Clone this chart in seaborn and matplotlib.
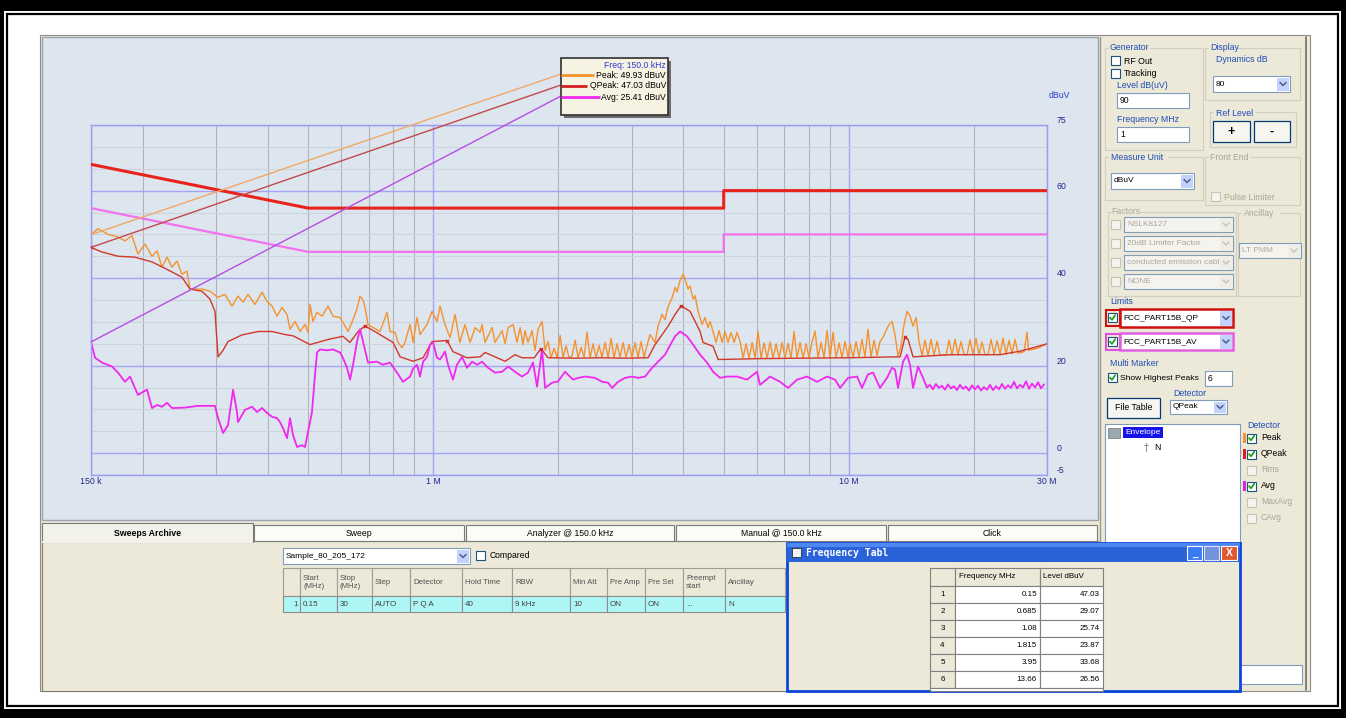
import numpy as np
import pandas as pd
import matplotlib
matplotlib.use("Agg")
import matplotlib.pyplot as plt
import seaborn as sns
from matplotlib.patches import Rectangle
from matplotlib.ticker import LogLocator, MultipleLocator, NullFormatter

# ================= data =================
# FCC Part 15B conducted limits (MHz, dBuV)
qp_lim_freq = [0.15, 0.5, 0.5, 5.0, 5.0, 30.0]
qp_lim_level = [66, 56, 56, 56, 60, 60]
av_lim_freq = [0.15, 0.5, 0.5, 5.0, 5.0, 30.0]
av_lim_level = [56, 46, 46, 46, 50, 50]

# Peak trace, hand read points
pk_freq = [
    0.150, 0.156, 0.1648, 0.1742, 0.1811, 0.1882, 0.1946, 0.2023, 0.2104, 0.2163,
    0.2223, 0.2286, 0.2350, 0.2416, 0.2484, 0.2553, 0.2596, 0.2775, 0.2901, 0.3033,
    0.3152, 0.3277, 0.3388, 0.3484, 0.3581, 0.3723, 0.3870, 0.3978, 0.4091, 0.4205,
    0.4324, 0.4445, 0.4520, 0.4647, 0.478, 0.4912, 0.4994, 0.5050, 0.5134, 0.5249,
    0.5397, 0.5580, 0.5737, 0.5963, 0.606, 0.6233, 0.6373, 0.6552, 0.6662, 0.6774,
    0.685, 0.6964, 0.7160, 0.7443, 0.7737, 0.7867, 0.8088, 0.8224, 0.8409, 0.8549,
    0.8790, 0.894, 0.9137, 0.9290, 0.9658, 0.993, 1.021, 1.038, 1.067, 1.097,
    1.128, 1.159, 1.192, 1.226, 1.261, 1.296, 1.310, 1.332, 1.385, 1.408,
    1.464, 1.489, 1.514, 1.556, 1.591, 1.618, 1.644, 1.662, 1.690, 1.729,
    1.758, 1.787, 1.827]
pk_level = [
    49.93, 51.3, 50.0, 49.4, 48.5, 49.7, 45.5, 47.8, 45.0, 46.2,
    42.5, 44.8, 42.5, 43.9, 40.9, 41.6, 37.5, 37.5, 37.0, 35.6,
    36.3, 33.6, 35.9, 34.5, 36.3, 34.0, 36.8, 34.7, 33.6, 31.3,
    33.3, 31.7, 28.3, 30.1, 27.8, 29.4, 27.6, 34.0, 30.1, 32.2,
    31.3, 33.6, 31.3, 31.0, 29.9, 27.8, 29.9, 33.0, 35.9, 35.0,
    33.3, 29.4, 28.7, 27.8, 32.2, 27.8, 27.6, 25.3, 24.1, 25.3,
    29.4, 25.3, 31.0, 27.1, 29.4, 32.4, 30.1, 33.6, 29.4, 26.4,
    31.7, 25.3, 29.4, 25.3, 28.7, 27.6, 29.4, 25.3, 28.7, 25.3,
    28.0, 25.0, 28.7, 29.4, 25.3, 28.7, 24.8, 28.0, 25.3, 28.0,
    23.5, 28.3, 30.1]
# dense spiky parts of the peak trace, read on the receiver sweep grid
pk_band1_range = (1.858, 3.270)
pk_band1 = [23.5, 25.5, 21.8, 24.0, 21.8, 26.9, 21.9, 24.5, 21.8, 22.2,
            25.8, 21.8, 24.2, 22.0, 27.6, 21.8, 25.0, 21.8, 24.6, 21.9,
            25.3, 21.8, 26.2, 21.8, 25.0, 21.9, 25.3, 21.8, 24.8, 21.8,
            25.3, 21.8, 25.5, 21.9, 24.7]
pk_freq_b = [3.325, 3.418, 3.475, 3.553, 3.612, 3.673, 3.756, 3.819, 3.861, 3.926,
             3.992, 4.036, 4.104, 4.150, 4.220, 4.266, 4.338, 4.435, 4.509, 4.585,
             4.636, 4.714, 4.793, 4.874, 4.955, 5.037, 5.122, 5.208, 5.296, 5.384,
             5.475]
pk_level_b = [27.1, 25.3, 29.0, 31.7, 30.5, 33.5, 35.5, 37.9, 36.8, 39.5,
              40.9, 39.8, 37.5, 38.2, 35.2, 36.0, 32.4, 29.4, 31.0, 28.7,
              30.1, 27.8, 25.3, 28.0, 25.3, 27.8, 25.3, 27.6, 25.3, 27.6,
              25.5]
pk_band2_range = (5.567, 9.960)
pk_band2 = [21.8, 25.0, 21.7, 25.3, 21.7, 27.8, 21.7, 25.2, 21.7, 25.4,
            21.7, 25.0, 21.7, 25.3, 21.7, 25.1, 21.7, 27.8, 21.7, 25.3,
            21.7, 25.0, 21.8, 25.4, 27.9, 21.8, 25.3, 21.8, 28.0, 21.8,
            27.6, 21.8, 25.2, 21.8, 25.5, 21.8]
pk_band3_range = (10.07, 26.86)
pk_band3 = [25.0, 21.9, 25.5, 22.0, 26.0, 22.0, 28.3, 22.0, 25.8, 22.3,
            25.5, 26.5, 28.0, 29.4, 30.1, 27.0, 22.2, 24.5, 29.4, 32.4,
            31.3, 29.0, 31.0, 25.5, 22.3, 25.8, 22.3, 26.0, 22.3, 25.6,
            22.4, 22.4, 22.4, 25.8, 22.4, 26.0, 22.5, 25.5, 22.5, 22.5,
            25.9, 22.5, 26.2, 22.5, 25.4, 22.5, 22.5, 26.0, 22.6, 25.7,
            22.6, 26.3, 22.6, 25.8, 22.7, 26.0, 22.8, 23.0, 23.2, 27.6]
pk_freq_tail = [27.1, 28.5, 30.0]
pk_level_tail = [23.5, 24.0, 25.0]

# Quasi-peak trace
qp_freq = [0.150, 0.159, 0.1742, 0.191, 0.2104, 0.2286, 0.2484, 0.2596, 0.2775, 0.2901,
           0.2982, 0.3033, 0.3118, 0.3205, 0.346, 0.379, 0.4091, 0.440, 0.460, 0.505,
           0.559, 0.606, 0.630, 0.659, 0.685, 0.732, 0.800, 0.832, 0.894, 0.945,
           0.993, 1.079, 1.115, 1.205, 1.296, 1.332, 1.408, 1.489, 1.573, 1.635,
           1.75, 1.815, 1.889, 2.2, 2.52, 2.9, 3.288, 3.418, 3.673, 3.819,
           3.948, 4.150, 4.387, 4.459, 4.714, 4.847, 6.116, 7.634, 10.07, 12.92,
           13.29, 13.66, 13.89, 14.28, 17.52, 23.13, 25.84, 28.07, 30.0]
qp_level = [47.03, 46.0, 45.0, 44.8, 43.7, 42.0, 40.2, 37.5, 37.0, 35.2,
            32.4, 22.0, 23.5, 25.5, 27.0, 27.8, 27.8, 27.1, 26.8, 24.8,
            26.0, 26.7, 25.3, 27.8, 29.07, 27.5, 25.3, 22.0, 21.0, 21.8,
            25.5, 25.74, 23.2, 21.8, 22.0, 23.0, 22.0, 21.0, 22.5, 21.8,
            21.8, 23.87, 21.8, 21.7, 21.8, 21.7, 21.8, 24.8, 29.0, 31.7,
            33.68, 32.4, 27.8, 25.3, 24.4, 21.4, 21.6, 21.7, 21.8, 22.0,
            22.0, 26.56, 26.0, 22.0, 22.5, 22.5, 23.3, 24.2, 25.0]

# Average trace
avg_freq = [0.150, 0.1534, 0.1594, 0.1685, 0.1742, 0.1811, 0.1862, 0.1946, 0.2001, 0.2046,
            0.2104, 0.2163, 0.2223, 0.2286, 0.2350, 0.2525, 0.2714, 0.2982, 0.3033, 0.3118,
            0.3205, 0.3296, 0.3369, 0.3388, 0.3522, 0.3661, 0.3764, 0.3870, 0.3978, 0.4091,
            0.4205, 0.4276, 0.4348, 0.4445, 0.4520, 0.4596, 0.4699, 0.4831, 0.4912, 0.4994,
            0.5105, 0.5191, 0.5249, 0.5337, 0.5548, 0.5737, 0.5963, 0.606, 0.6199, 0.6303,
            0.6409, 0.6552, 0.6662, 0.6774, 0.6964, 0.7320, 0.7568, 0.7867, 0.8178, 0.8456,
            0.8790, 0.894, 0.9137, 0.9290, 0.945, 0.9658, 0.9820, 0.9985, 1.021, 1.038,
            1.067, 1.085, 1.115, 1.140, 1.173, 1.205, 1.240, 1.275, 1.310, 1.355,
            1.408, 1.464, 1.514, 1.573, 1.635, 1.690, 1.738, 1.777, 1.827, 1.858,
            1.932, 1.997, 2.075, 2.170, 2.231, 2.319, 2.451, 2.548, 2.634, 2.693,
            2.784, 2.894, 3.009, 3.111, 3.234, 3.362, 3.475, 3.612, 3.756, 3.819,
            3.926, 4.081, 4.220, 4.387, 4.559, 4.714, 4.901, 5.094, 5.384, 5.691,
            6.015, 6.116, 6.465, 6.833, 7.143, 7.507, 7.935, 8.388, 8.866, 9.268,
            9.529, 9.960, 10.47, 10.76, 11.12, 11.44, 11.89, 12.36, 12.71, 12.92,
            13.14, 13.51, 13.81, 14.04, 14.28, 14.68, 15.09, 15.42]
avg_level = [25.41, 21.8, 20.7, 19.8, 18.4, 16.3, 17.5, 13.3, 14.0, 14.5,
             10.3, 11.0, 10.6, 11.5, 10.3, 10.4, 10.8, 10.8, 8.0, 4.6,
             6.4, 14.5, 9.4, 7.1, 9.9, 10.6, 9.4, 10.3, 9.2, 8.3,
             8.0, 7.1, 5.7, 3.4, 8.0, 4.1, 1.4, 1.8, 1.4, 4.8,
             9.4, 17.9, 23.0, 23.7, 23.5, 23.7, 23.0, 21.8, 19.5, 16.8,
             20.2, 25.5, 28.3, 25.5, 20.7, 20.9, 20.2, 20.7, 18.4, 16.3,
             17.5, 19.3, 20.2, 17.5, 20.9, 22.0, 24.8, 25.3, 21.8, 21.4,
             23.2, 20.2, 16.8, 20.2, 22.0, 19.5, 20.9, 20.2, 20.9, 19.5,
             18.4, 18.6, 19.8, 18.6, 17.5, 18.4, 20.7, 15.2, 23.7, 14.9,
             16.1, 16.4, 18.6, 16.8, 17.2, 17.5, 17.2, 16.3, 16.1, 14.9,
             16.3, 17.2, 17.5, 17.2, 17.5, 19.5, 20.9, 22.5, 25.5, 26.7,
             27.8, 26.7, 24.8, 22.5, 20.7, 18.6, 17.2, 17.5, 17.5, 16.8,
             18.6, 15.6, 17.5, 16.3, 14.9, 16.8, 17.5, 16.3, 17.5, 16.8,
             14.9, 17.2, 17.5, 14.9, 18.0, 18.4, 14.9, 17.2, 19.5, 19.1,
             14.9, 20.9, 22.5, 20.2, 14.9, 19.8, 17.2, 15.0]
avg_band_range = (15.68, 29.51)
avg_band = [15.6, 14.6, 15.8, 14.9, 15.4, 14.5, 15.7, 14.8, 15.3, 14.4,
            15.6, 14.7, 15.2, 14.3, 15.5, 14.6, 15.4, 14.3, 15.1, 14.5,
            15.6, 14.4, 15.3, 14.6, 15.8, 14.7, 15.5, 14.9, 16.3, 14.8,
            15.6, 15.0, 16.4, 14.7, 15.9, 15.0, 16.2, 14.8, 15.7]

# highest peaks (frequency table)
mk_freq = [0.15, 0.685, 1.08, 1.815, 3.95, 13.66]
mk_level = [47.03, 29.07, 25.74, 23.87, 33.68, 26.56]

# ================= build frames =================
def sweep(rng, levels):
    return np.geomspace(rng[0], rng[1], len(levels))

peak_df = pd.DataFrame({
    'freq': np.concatenate([pk_freq, sweep(pk_band1_range, pk_band1), pk_freq_b,
                            sweep(pk_band2_range, pk_band2), sweep(pk_band3_range, pk_band3),
                            pk_freq_tail]),
    'level': np.concatenate([pk_level, pk_band1, pk_level_b, pk_band2, pk_band3, pk_level_tail])})
qp_df = pd.DataFrame({'freq': qp_freq, 'level': qp_level})
avg_df = pd.DataFrame({'freq': np.concatenate([avg_freq, sweep(avg_band_range, avg_band)]),
                       'level': np.concatenate([avg_level, avg_band])})
qplim_df = pd.DataFrame({'freq': qp_lim_freq, 'level': qp_lim_level})
avlim_df = pd.DataFrame({'freq': av_lim_freq, 'level': av_lim_level})
mk_df = pd.DataFrame({'freq': mk_freq, 'level': mk_level})

# ================= style =================
sns.set_theme(style="white")
plt.rcParams['font.family'] = ['Liberation Sans', 'DejaVu Sans']
plt.rcParams['axes.unicode_minus'] = False

W, H = 1346, 718
BG = '#dde5ee'
BEIGE = '#ece9d8'
PEAK = '#f5922e'
QPC = '#d2382a'
AVG = '#f028f0'
QPLIM = '#e8231c'
AVLIM = '#f272ee'
BLUE_T = '#1f4cb8'
GREY_T = '#aaa69a'
TICK = '#25258a'
GROUP = '#d3cfbf'

fig = plt.figure(figsize=(W / 100, H / 100), dpi=100)
fig.patch.set_facecolor('white')

ui = fig.add_axes([0, 0, 1, 1], zorder=0)
ui.set_xlim(0, W)
ui.set_ylim(H, 0)
ui.axis('off')

top = fig.add_axes([0, 0, 1, 1], zorder=3)
top.set_xlim(0, W)
top.set_ylim(H, 0)
top.axis('off')


def rect(x, y, w, h, fc='none', ec='none', lw=0.8, z=1, a=None):
    (a or ui).add_patch(Rectangle((x, y), w, h, facecolor=fc, edgecolor=ec,
                                  linewidth=lw, zorder=z))


def label(x, y, s, color='black', size=6.3, ha='left', va='center', weight='normal',
          z=6, a=None, family=None):
    kw = {}
    if family:
        kw['family'] = family
    (a or ui).text(x, y, s, color=color, fontsize=size, ha=ha, va=va,
                   fontweight=weight, zorder=z, **kw)


def checkbox(x, y, checked=False, enabled=True, z=5):
    rect(x, y, 9, 9, fc='white' if enabled else '#f4f3ee',
         ec='#1c5180' if enabled else '#c8c4b4', lw=0.8, z=z)
    if checked:
        ui.plot([x + 2, x + 4, x + 7.2], [y + 4.6, y + 6.8, y + 2.2],
                color='#21a121', lw=1.3, zorder=z + 1)


def combo(x, y, w, h, text, enabled=True, ec='#7f9db9', lw=0.8, z=4):
    rect(x, y, w, h, fc='white' if enabled else '#f4f3ee', ec=ec, lw=lw, z=z)
    rect(x + w - 13, y + 1.5, 11.5, h - 3, fc='#c3d3fd' if enabled else '#eeede6',
         ec='none', z=z + 0.1)
    ui.plot([x + w - 10, x + w - 7, x + w - 4], [y + h / 2 - 1.5, y + h / 2 + 1.5, y + h / 2 - 1.5],
            color='#4d6185' if enabled else '#c9c7ba', lw=1.1, zorder=z + 0.2)
    label(x + 3, y + h / 2, text, color='black' if enabled else GREY_T, size=6.0, z=z + 0.3)


def textbox(x, y, w, h, text, z=4):
    rect(x, y, w, h, fc='white', ec='#7f9db9', z=z)
    label(x + 3, y + h / 2, text, size=6.2, z=z + 0.3)


def button(x, y, w, h, text, size=6.3, weight='normal', z=4):
    rect(x, y, w, h, fc='#f6f5f0', ec='#003c74', lw=0.9, z=z)
    label(x + w / 2, y + h / 2, text, size=size, ha='center', weight=weight, z=z + 0.3)


def group(x0, x1, y0, y1, title_end):
    # etched group frame, open where the title text sits
    ui.plot([title_end, x1, x1, x0, x0, x0 + 3], [y0, y0, y1, y1, y0, y0],
            color=GROUP, lw=0.8, zorder=1.5)


# ---------- outer frame ----------
rect(0, 0, W, 11, fc='black', z=0.5)
rect(0, 709, W, 9, fc='black', z=0.5)
rect(0, 0, 4, H, fc='black', z=0.5)
rect(1341, 0, 5, H, fc='black', z=0.5)
rect(7, 14, 1331, 692, ec='black', lw=1.6, z=0.5)

# ---------- window body ----------
rect(40, 35, 1270, 656, fc=BEIGE, ec='#8c8c8c', z=0.6)
rect(42, 37, 1056, 483, fc=BG, ec='#9aa4b0', lw=1.0, z=0.7)
ui.plot([1100, 1100], [37, 690], color='#9c9a8c', lw=1.0, zorder=0.8)
ui.plot([1306, 1306], [37, 690], color='#6e6c60', lw=1.2, zorder=0.8)

# ---------- bottom tabs ----------
tabs = [('Sweeps Archive', 42, 253), ('Sweep', 253, 465), ('Analyzer @ 150.0 kHz', 465, 675),
        ('Manual @ 150.0 kHz', 675, 887), ('Click', 887, 1098)]
rect(42, 541, 1056, 150, fc=BEIGE, ec='#7a7a7a', z=0.9)
for i, (name, x0, x1) in enumerate(tabs):
    if i == 0:
        rect(x0, 523, x1 - x0, 19, fc='#f3f2ea', ec='#7a7a7a', z=1.2)
        ui.plot([x0 + 1, x1 - 1], [541.5, 541.5], color='#f3f2ea', lw=1.6, zorder=1.3)
        label((x0 + x1) / 2, 533, name, size=6.3, ha='center', weight='bold', z=1.4)
    else:
        rect(x0 + 1, 525, x1 - x0 - 2, 16, fc='#fbfbf7', ec='#7a7a7a', z=1.1)
        label((x0 + x1) / 2, 533, name, size=6.2, ha='center', z=1.4)

combo(283, 548, 187, 16, 'Sample_80_205_172')
checkbox(476, 551)
label(490, 556, 'Compared', size=6.2)

sw_cols = [283, 300, 337, 372, 410, 462, 512, 570, 607, 645, 683, 725, 785]
sw_head = ['', 'Start\n(MHz)', 'Stop\n(MHz)', 'Step', 'Detector', 'Hold Time', 'RBW',
           'Min Att', 'Pre Amp', 'Pre Sel', 'Preempt\nstart', 'Ancillay']
sw_row = ['1', '0.15', '30', 'AUTO', 'P Q A', '40', '9 kHz', '10', 'ON', 'ON', '...', 'N']
for j in range(len(sw_head)):
    x0, x1 = sw_cols[j], sw_cols[j + 1]
    rect(x0, 568, x1 - x0, 28, fc=BEIGE, ec='#a09e92', z=2)
    label(x0 + 3, 582, sw_head[j], color='#505050', size=5.6, z=2.5)
    rect(x0, 596, x1 - x0, 16, fc='#aef6f4', ec='#8c8c8c', z=2)
    if j == 0:
        label(x1 - 2, 604, sw_row[j], color='#404040', size=5.8, ha='right', z=2.5)
    else:
        label(x0 + 3, 604, sw_row[j], color='#404040', size=5.8, z=2.5)

# ---------- right control panel ----------
group(1105, 1203, 48, 150, 1150)
group(1205, 1300, 48, 100, 1238)
group(1210, 1296, 112, 147, 1255)
group(1105, 1203, 157, 200, 1168)
group(1205, 1300, 157, 205, 1250)
group(1108, 1236, 212, 296, 1140)
group(1238, 1300, 213, 296, 1280)
label(1110, 48, 'Generator', BLUE_T)
checkbox(1111, 56)
label(1124, 61, 'RF Out')
checkbox(1111, 69)
label(1124, 74, 'Tracking')
label(1117, 86, 'Level dB(uV)', BLUE_T)
textbox(1117, 93, 72, 15, '90')
label(1117, 120, 'Frequency MHz', BLUE_T)
textbox(1117, 127, 72, 15, '1')
label(1210, 48, 'Display', BLUE_T)
label(1216, 59, 'Dynamics dB', BLUE_T)
combo(1213, 76, 77, 16, '80')
label(1216, 113, 'Ref Level', BLUE_T)
button(1213, 121, 37, 21, '+', size=9, weight='bold')
button(1254, 121, 36, 21, '-', size=9, weight='bold')
label(1111, 157, 'Measure Unit', BLUE_T)
combo(1111, 173, 83, 16, 'dBuV')
label(1210, 157, 'Front End', GREY_T)
checkbox(1211, 192, enabled=False)
label(1224, 197, 'Pulse Limiter', GREY_T)
label(1111, 212, 'Factors', GREY_T)
for y0, t in [(217, 'NSLK8127'), (236, '20dB Limiter Factor'),
              (255, 'conducted emission cabl'), (274, 'NONE')]:
    checkbox(1111, y0 + 3, enabled=False)
    combo(1124, y0, 109, 15, t, enabled=False)
label(1244, 213, 'Ancillay', GREY_T)
combo(1239, 243, 62, 15, 'LT PMM', enabled=False)
label(1110, 301, 'Limits', BLUE_T)
rect(1106, 310, 14, 16, ec='#d01010', lw=1.5, z=4)
checkbox(1108, 313, checked=True)
combo(1120, 309, 113, 18, 'FCC_PART15B_QP', ec='#d01010', lw=1.8)
rect(1106, 334, 14, 16, ec='#e050e0', lw=1.5, z=4)
checkbox(1108, 337, checked=True)
combo(1120, 333, 113, 17, 'FCC_PART15B_AV', ec='#e060e0', lw=1.8)
label(1110, 363, 'Multi Marker', BLUE_T)
checkbox(1108, 373, checked=True)
label(1120, 378, 'Show Highest Peaks', size=6.1)
textbox(1205, 371, 27, 15, '6')
button(1107, 398, 53, 20, 'File Table')
label(1173, 394, 'Detector', BLUE_T)
combo(1170, 400, 57, 14, 'QPeak')
rect(1105, 424, 135, 268, fc='white', ec='#7f9db9', z=3)
rect(1108, 428, 12, 10, fc='#9aa8b4', ec='#707070', lw=0.5, z=3.5)
rect(1123, 427, 40, 11, fc='#1414e6', z=3.5)
label(1125, 432.5, 'Envelope', color='white', size=6.0, z=3.7)
label(1144, 447, '\u2020', color='#808080', size=7, z=3.7, family='DejaVu Sans')
label(1154, 447, 'N', size=6.2, z=3.7)
label(1247, 425, 'Detector', BLUE_T)
detectors = [('Peak', PEAK, True), ('QPeak', '#e02020', True), ('Rms', None, False),
             ('Avg', '#e020e0', True), ('MaxAvg', None, False), ('CAvg', None, False)]
for i, (name, c, on) in enumerate(detectors):
    y0 = 433 + 16 * i
    if c:
        rect(1243, y0, 3, 10, fc=c, z=4)
    checkbox(1247, y0 + 0.5, checked=on, enabled=on)
    label(1261, y0 + 5, name, color='black' if on else GREY_T, size=6.2)
rect(1240, 665, 62, 19, fc='white', ec='#7f9db9', z=3)

# ---------- frequency table window ----------
rect(787, 543, 453, 148, fc=BEIGE, ec='#0a46d8', lw=2, z=10)
rect(787, 543, 453, 19, fc='#2a62da', z=11)
rect(787, 543, 453, 4, fc='#4f88f2', z=11.1)
rect(792, 548, 9, 9, fc='#f2f2f2', ec='#303030', lw=0.6, z=11.2)
label(806, 553, 'Frequency Tabl', color='white', size=7, weight='bold',
      family='DejaVu Sans Mono', z=11.3)
rect(1187, 546, 15, 14, fc='#3c7af0', ec='white', lw=0.8, z=11.2)
label(1194.5, 554, '_', color='white', size=7, ha='center', weight='bold', z=11.3)
rect(1204, 546, 15, 14, fc='#7393dc', ec='#dde4f6', lw=0.8, z=11.2)
rect(1221, 546, 16, 14, fc='#e0582e', ec='white', lw=0.8, z=11.2)
label(1229, 553, 'X', color='white', size=7.5, ha='center', weight='bold', z=11.3)

rect(930, 568, 25, 18, fc=BEIGE, ec='#808080', z=12)
rect(955, 568, 85, 18, fc=BEIGE, ec='#808080', z=12)
rect(1040, 568, 63, 18, fc=BEIGE, ec='#808080', z=12)
label(959, 577, 'Frequency MHz', size=5.8, z=12.5)
label(1043, 577, 'Level dBuV', size=5.8, z=12.5)
for i, (f, v) in enumerate(zip(mk_freq, mk_level)):
    y0 = 586 + 17 * i
    rect(930, y0, 25, 17, fc=BEIGE, ec='#808080', z=12)
    rect(955, y0, 85, 17, fc='white', ec='#808080', z=12)
    rect(1040, y0, 63, 17, fc='white', ec='#808080', z=12)
    label(942.5, y0 + 8.5, str(i + 1), size=5.8, ha='center', z=12.5)
    label(1037, y0 + 8.5, f'{f:g}', size=5.8, ha='right', z=12.5)
    label(1100, y0 + 8.5, f'{v:.2f}', size=5.8, ha='right', z=12.5)
rect(930, 688, 173, 3, fc='white', ec='#808080', z=12)

# ---------- spectrum chart ----------
ax = fig.add_axes([91 / W, 1 - 475 / H, 956 / W, 350 / H], zorder=1)
ax.set_facecolor(BG)
ax.set_xscale('log')

sns.lineplot(data=peak_df, x='freq', y='level', ax=ax, color=PEAK, linewidth=1.0,
             sort=False, estimator=None, legend=False, zorder=2)
sns.lineplot(data=qp_df, x='freq', y='level', ax=ax, color=QPC, linewidth=1.0,
             sort=False, estimator=None, legend=False, zorder=2.2)
sns.lineplot(data=avg_df, x='freq', y='level', ax=ax, color=AVG, linewidth=1.3,
             sort=False, estimator=None, legend=False, zorder=2.4)
sns.lineplot(data=qplim_df, x='freq', y='level', ax=ax, color=QPLIM, linewidth=2.2,
             sort=False, estimator=None, legend=False, zorder=2.6)
sns.lineplot(data=avlim_df, x='freq', y='level', ax=ax, color=AVLIM, linewidth=1.6,
             sort=False, estimator=None, legend=False, zorder=2.6)
sns.scatterplot(data=mk_df, x='freq', y='level', ax=ax, marker='x', color='#d81010',
                s=6, linewidth=0.7, legend=False, zorder=3)

ax.set_xlim(0.15, 30)
ax.set_ylim(-5, 75)
ax.set_xlabel('')
ax.set_ylabel('')
ax.set_xticks([0.15, 1, 10, 30], ['150 k', '1 M', '10 M', '30 M'])
ax.xaxis.set_minor_locator(LogLocator(base=10, subs=np.arange(2, 10)))
ax.xaxis.set_minor_formatter(NullFormatter())
ax.set_yticks([75, 60, 40, 20, 0, -5], ['75', '60', '40', '20', '0', '-5'])
ax.yaxis.set_minor_locator(MultipleLocator(5))
ax.yaxis.tick_right()
ax.set_axisbelow(True)
ax.grid(which='major', color='#a4a4f4', linewidth=1.0)
ax.grid(which='minor', axis='x', color='#b0b3ba', linewidth=0.8)
ax.grid(which='minor', axis='y', color='#cdd3dc', linewidth=0.8)
ax.tick_params(which='both', length=0)
ax.tick_params(axis='x', pad=1.5, labelsize=6.3, labelcolor=TICK)
ax.tick_params(axis='y', pad=7, labelsize=6.3, labelcolor=TICK)
for t in ax.get_yticklabels():
    t.set_verticalalignment('bottom')
for s in ax.spines.values():
    s.set_color('#9c9cf2')
    s.set_linewidth(1.0)
label(1049, 96, 'dBuV', color='#2a3ad0', size=6.3)

# ---------- marker read-out box with leader lines ----------
rect(564, 61, 107, 57, fc='#6c6c6c', z=1, a=top)
rect(561, 58, 107, 57, fc='#f6f3e3', ec='#303030', lw=1.2, z=2, a=top)
label(666, 65, 'Freq: 150.0 kHz', color='#2a3ad0', size=6.2, ha='right', z=3, a=top)
rows = [('Peak', pk_level[0], PEAK, '#f0a868', 75, 594),
        ('QPeak', qp_level[0], '#d42020', '#c44848', 86, 587),
        ('Avg', avg_level[0], AVG, '#b64ee2', 97, 600)]
for name, val, c, lc, yr, xend in rows:
    top.plot([561, xend], [yr, yr], color=c, lw=2.0, zorder=2.5, solid_capstyle='butt')
    label(666, yr, f'{name}: {val:.2f} dBuV', size=6.2, ha='right', z=3, a=top)
    ax.annotate('', xy=(mk_freq[0], val), xycoords='data', xytext=(561, yr - 1),
                textcoords=top.transData, annotation_clip=False, zorder=3,
                arrowprops=dict(arrowstyle='-', color=lc, lw=1.0, shrinkA=0, shrinkB=0))

fig.savefig('out.png', dpi=100)
